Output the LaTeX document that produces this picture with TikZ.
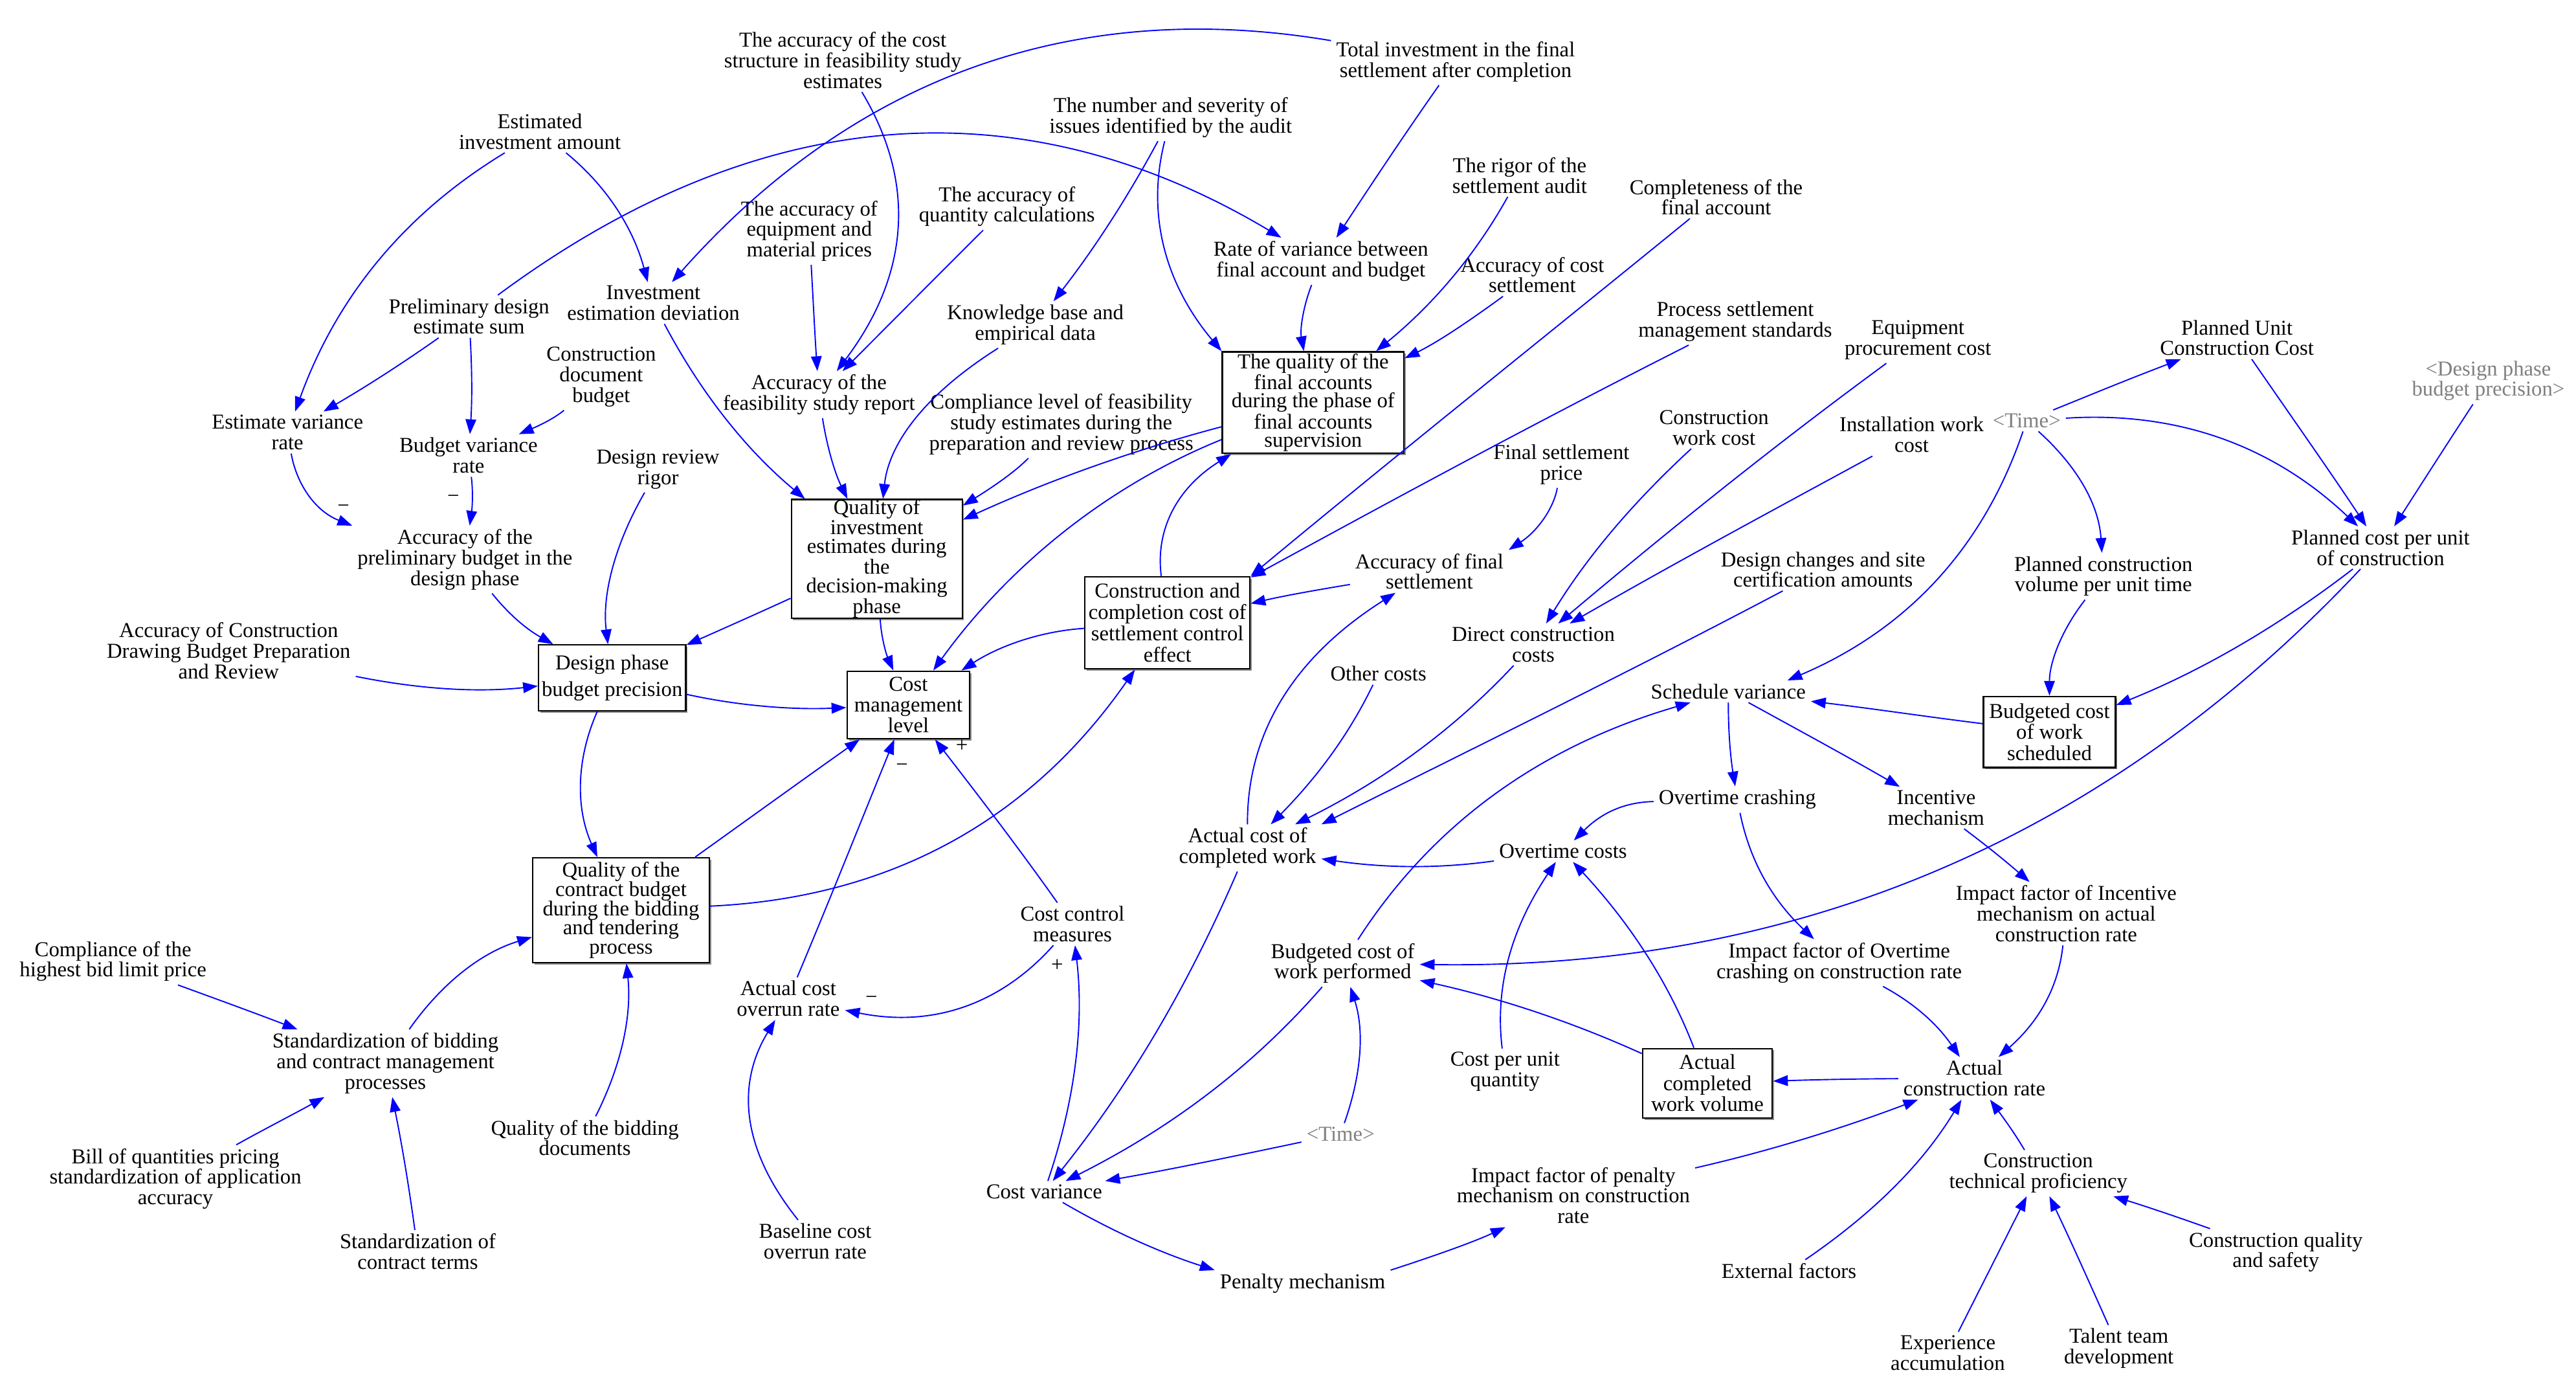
\documentclass[tikz,border=0pt]{standalone}
\usepackage{fontspec}
\setmainfont{Liberation Serif}
\usetikzlibrary{arrows.meta,calc,shadows}
\tikzset{
  tv/.style={font=\fontsize{12.9}{12.5}\selectfont, align=center, inner xsep=3pt, inner ysep=2pt},
  shv/.style={tv, text=black!50},
  lvl/.style={draw=black, line width=0.9pt, fill=white, align=center, inner sep=0pt,
     drop shadow={shadow xshift=1.1pt, shadow yshift=-1.1pt, fill=black!45, opacity=1}},
  arr/.style={draw=blue, line width=0.75pt, -{Triangle[length=9pt,width=6.5pt]}},
  pol/.style={font=\fontsize{12.9}{12.5}\selectfont, inner sep=0pt},
}
% curved connector: from, to, S, M, T
\newcommand{\edgeC}[5]{\draw[arr] (#1) .. controls ($1.3333*(#4)-0.3333*(#5)$) and ($1.3333*(#4)-0.3333*(#3)$) .. (#2);}
% straight connector: from, to, S, T
\newcommand{\edgeS}[4]{\draw[arr] (#1) .. controls ($(#3)!0.3333!(#4)$) and ($(#3)!0.6667!(#4)$) .. (#2);}
\begin{document}
\begin{tikzpicture}[x=1pt,y=-1pt]
\path[use as bounding box, fill=white] (0,0) rectangle (1568,844.3);

% ---------- nodes ----------
\node[tv] (costStruct) at (513,36.7) {The accuracy of the cost\\structure in feasibility study\\estimates};
\node[tv] (totalInv) at (886,37.5) {Total investment in the final\\settlement after completion};
\node[tv] (estInv) at (328.6,80) {Estimated\\investment amount};
\node[tv] (numSev) at (712.6,71.5) {The number and severity of\\issues identified by the audit};
\node[tv] (rigor) at (925,106.7) {The rigor of the\\settlement audit};
\node[tv] (complete) at (1044.6,120) {Completeness of the\\final account};
\node[tv] (eqPrice) at (492.6,140.6) {The accuracy of\\equipment and\\material prices};
\node[tv] (qtyCalc) at (612.9,125.7) {The accuracy of\\quantity calculations};
\node[tv] (rateVar) at (804,159) {Rate of variance between\\final account and budget};
\node[tv] (accCostSet) at (932.7,167.3) {Accuracy of cost\\settlement};
\node[tv] (invDev) at (397.7,184.4) {Investment\\estimation deviation};
\node[tv] (prelim) at (285.5,192.6) {Preliminary design\\estimate sum};
\node[tv] (knowledge) at (630.2,197.6) {Knowledge base and\\empirical data};
\node[tv] (processStd) at (1056.2,195.7) {Process settlement\\management standards};
\node[tv] (equipCost) at (1167.4,207) {Equipment\\procurement cost};
\node[tv] (plannedUnit) at (1361.6,205.6) {Planned Unit\\Construction Cost};
\node[shv] (designShadow) at (1514.6,231.7) {<Design phase\\budget precision>};
\node[tv] (constrDoc) at (366,229.3) {Construction\\document\\budget};
\node[tv] (accFeas) at (498.5,240.2) {Accuracy of the\\feasibility study report};
\node[lvl, minimum width=110.6pt, minimum height=61.8pt, font=\fontsize{12.9}{11.1}\selectfont] (qualFinal) at (799.3,245) {The quality of the\\final accounts\\during the phase of\\final accounts\\supervision};
\node[tv] (estVar) at (175,263.2) {Estimate variance\\rate};
\node[tv] (budVar) at (285.2,277.2) {Budget variance\\rate};
\node[tv] (designRev) at (400.5,285.6) {Design review\\rigor};
\node[tv] (compliance) at (646,258.2) {Compliance level of feasibility\\study estimates during the\\preparation and review process};
\node[lvl, minimum width=104pt, minimum height=71.5pt, font=\fontsize{12.9}{11.3}\selectfont] (qualInv) at (533.7,340.1) {Quality of\\investment\\estimates during\\the\\decision-making\\phase};
\node[shv] (timeTop) at (1233.6,256) {<Time>};
\node[tv] (install) at (1163.6,264.6) {Installation work\\cost};
\node[tv] (constrWork) at (1043.3,260.3) {Construction\\work cost};
\node[tv] (finalPrice) at (950.4,282.6) {Final settlement\\price};
\node[tv] (accPrelim) at (283,340.5) {Accuracy of the\\preliminary budget in the\\design phase};
\node[tv] (accFinal) at (870,347.7) {Accuracy of final\\settlement};
\node[tv] (designChg) at (1109.7,346.6) {Design changes and site\\certification amounts};
\node[tv] (plannedVol) at (1280.3,350.7) {Planned construction\\volume per unit time};
\node[tv] (plannedCost) at (1449,333.3) {Planned cost per unit\\of construction};
\node[lvl, minimum width=100.5pt, minimum height=56.1pt, font=\fontsize{12.9}{13}\selectfont] (ccBox) at (710.6,379) {Construction and\\completion cost of\\settlement control\\effect};
\node[tv] (accDraw) at (139.2,396) {Accuracy of Construction\\Drawing Budget Preparation\\and Review};
\node[lvl, minimum width=89.5pt, minimum height=40pt, font=\fontsize{12.9}{16.4}\selectfont] (dpBox) at (372.6,412.5) {Design phase\\budget precision};
\node[tv] (directCost) at (933.3,392.2) {Direct construction\\costs};
\node[tv] (otherCosts) at (839,410) {Other costs};
\node[lvl, minimum width=74.6pt, minimum height=41.1pt, font=\fontsize{12.9}{12.6}\selectfont] (cmlBox) at (552.9,429) {Cost\\management\\level};
\node[tv] (schedVar) at (1052,420.8) {Schedule variance};
\node[lvl, minimum width=80.4pt, minimum height=43.2pt, font=\fontsize{12.9}{12.8}\selectfont] (bcwsBox) at (1247.5,445.4) {Budgeted cost\\of work\\scheduled};
\node[tv] (otCrash) at (1057.5,486.6) {Overtime crashing};
\node[tv] (incentive) at (1178.5,491.6) {Incentive\\mechanism};
\node[tv] (acwp) at (759.4,516) {Actual cost of\\completed work};
\node[tv] (otCosts) at (951.4,518) {Overtime costs};
\node[lvl, minimum width=107.5pt, minimum height=63.8pt, font=\fontsize{12.9}{11.8}\selectfont] (qcbBox) at (378,553.9) {Quality of the\\contract budget\\during the bidding\\and tendering\\process};
\node[tv] (impInc) at (1257.7,556) {Impact factor of Incentive\\mechanism on actual\\construction rate};
\node[tv] (costCtrl) at (652.8,562.3) {Cost control\\measures};
\node[tv] (complBid) at (68.8,585) {Compliance of the\\highest bid limit price};
\node[tv] (bcwp) at (817.3,586.2) {Budgeted cost of\\work performed};
\node[tv] (impOT) at (1119.5,585.9) {Impact factor of Overtime\\crashing on construction rate};
\node[tv] (acor) at (479.8,607.7) {Actual cost\\overrun rate};
\node[tv] (stdBid) at (234.6,647) {Standardization of bidding\\and contract management\\processes};
\node[lvl, minimum width=79pt, minimum height=42.2pt, font=\fontsize{12.9}{12.8}\selectfont] (acwvBox) at (1039.3,659.2) {Actual\\completed\\work volume};
\node[tv] (costUnit) at (916.1,652.2) {Cost per unit\\quantity};
\node[tv] (acr) at (1201.8,656.2) {Actual\\construction rate};
\node[shv] (timeBot) at (816,690) {<Time>};
\node[tv] (qualBid) at (356,692.4) {Quality of the bidding\\documents};
\node[tv] (billQ) at (106.8,717.3) {Bill of quantities pricing\\standardization of application\\accuracy};
\node[tv] (techProf) at (1240.7,713.9) {Construction\\technical proficiency};
\node[tv] (impPen) at (957.7,727.5) {Impact factor of penalty\\mechanism on construction\\rate};
\node[tv] (costVar) at (635.6,725.2) {Cost variance};
\node[tv] (baseCost) at (496.2,755.4) {Baseline cost\\overrun rate};
\node[tv] (stdTerms) at (254.3,761.6) {Standardization of\\contract terms};
\node[tv] (cqs) at (1385.3,762) {Construction quality\\and safety};
\node[tv] (external) at (1088.9,773.4) {External factors};
\node[tv] (penalty) at (792.9,781) {Penalty mechanism};
\node[tv] (experience) at (1185.6,823.2) {Experience\\accumulation};
\node[tv] (talent) at (1289.7,820.6) {Talent team\\development};

% polarity signs
\node[pol] (pm1) at (209,309.6) {−};
\node[pol] (pm2) at (275.9,303.8) {−};
\node[pol] (pp1) at (585.5,453.9) {+};
\node[pol] (pm3) at (549,467) {−};
\node[pol] (pm4) at (530.4,608.5) {−};
\node[pol] (pp2) at (643.5,587.5) {+};

% ---------- connectors ----------
\edgeC{estInv}{estVar}{298.5,92.3}{227.5,160.9}{180.4,247.8}
\edgeC{estInv}{invDev}{346.8,92.3}{376,128}{393.3,170}
\edgeC{prelim}{rateVar}{301.5,176.4}{542,82}{782,142.8}
\edgeC{totalInv}{invDev}{813,19.5}{592.7,40.4}{411,167}
\edgeS{totalInv}{rateVar}{873,54.3}{814.4,142.9}
\edgeS{rateVar}{qualFinal}{795.6,171.9}{789,214.4}
\edgeC{numSev}{knowledge}{703,86.8}{677,133}{644,181}
\edgeC{numSev}{qualFinal.north west}{706,86.8}{709,152}{744,214}
\edgeC{rigor}{qualFinal}{917,121}{885,168}{842,213.5}
\edgeS{accCostSet}{qualFinal}{911,184.5}{856,220.7}
\edgeS{complete}{ccBox.north east}{1030,133.5}{762,347}
\edgeS{processStd}{ccBox}{1020.5,210.7}{765,349}
\edgeS{accFinal}{ccBox}{822,355.4}{762,366}
\edgeC{finalPrice}{accFinal.north east}{948,294.8}{939,316}{918.7,336.4}
\edgeC{acwp}{accFinal}{761.4,500}{781,425}{847,361.7}
\edgeC{constrWork}{directCost}{1021.8,275}{978,326}{942.6,375.3}
\edgeS{equipCost}{directCost}{1143.6,219.8}{951,375}
\edgeS{install}{directCost}{1138.6,278.5}{961,374}
\edgeS{designChg}{acwp.north east}{1088,361.7}{809,498.3}
\edgeC{directCost}{acwp}{920,406}{861,458}{791.8,497.4}
\edgeC{otherCosts}{acwp}{834.5,419.6}{811.5,458}{780,497}
\edgeC{otCosts}{acwp}{908,525.5}{858.5,527.5}{809,523.6}
\edgeC{acwp}{costVar}{750.8,529}{706,624}{647.8,712}
\edgeC{costVar}{costCtrl}{640,715.7}{655,646}{656.5,575.8}
\edgeC{costCtrl}{acor}{643.5,575.8}{586.4,613.1}{518.4,618.5}
\edgeS{costCtrl}{cmlBox}{644,547}{570,451}
\edgeS{acor}{cmlBox}{487,593}{543.5,451}
\edgeC{baseCost}{acor}{480.7,739}{456,680}{469,620.4}
\edgeS{qcbBox}{cmlBox}{422.8,522}{522,450.4}
\edgeC{qcbBox}{ccBox}{433,550.8}{578.6,511.9}{688,408.4}
\edgeC{dpBox}{cmlBox}{418,424}{466,430}{515.6,431.4}
\edgeS{qualInv}{cmlBox}{533.5,376.7}{542,407.8}
\edgeS{qualInv}{dpBox}{481,364.5}{418,392.4}
\edgeC{ccBox}{cmlBox}{659.8,380.4}{621,390}{585,407.5}
\edgeC{ccBox}{qualFinal}{707,350.3}{713,311}{742,272}
\edgeC{qualFinal}{cmlBox}{744,260}{646,324}{565,407.8}
\edgeS{qualFinal}{qualInv}{744,255}{588,310}
\edgeS{compliance}{qualInv}{631.5,278}{590,306}
\edgeC{knowledge}{qualInv}{597.6,213.5}{555,257}{537.7,303.8}
\edgeS{accFeas}{qualInv}{498.3,251.5}{512,303.8}
\edgeC{invDev}{qualInv}{405.3,198}{441,254}{487,303.8}
\edgeS{eqPrice}{accFeas}{494,162.8}{497,224.3}
\edgeC{costStruct}{accFeas}{527,55}{547,139}{514.6,222.5}
\edgeS{qtyCalc}{accFeas}{598.8,139.3}{514.6,224.3}
\edgeS{prelim}{estVar}{270,204.4}{204.8,247.5}
\edgeS{prelim}{budVar}{287,204.4}{287.7,261.4}
\edgeS{constrDoc}{budVar}{348,247}{326.7,261.4}
\edgeC{estVar}{accPrelim.north west}{178.4,275.8}{188,302}{211,327}
\edgeS{budVar}{accPrelim}{288.5,289.4}{287,317.8}
\edgeS{accPrelim}{dpBox}{297.8,362.3}{329.2,391.6}
\edgeC{designRev}{dpBox}{390.7,299.3}{372.5,347}{368.9,391.6}
\edgeC{accDraw}{dpBox}{222.4,414}{275,419.5}{328,418.4}
\edgeC{dpBox}{qcbBox}{363,432.8}{353.5,477}{361.9,522}
\edgeS{complBid}{stdBid}{115.6,602}{178.4,625}
\edgeC{stdBid}{qcbBox}{251.3,625}{282.8,590.9}{324,569.5}
\edgeS{billQ}{stdBid}{145.7,694.8}{195.5,669.5}
\edgeS{stdTerms}{stdBid}{253,745.7}{240,669.5}
\edgeC{qualBid}{qcbBox}{364.3,676.5}{379.5,632.5}{382.5,586.7}
\edgeS{timeTop}{plannedUnit}{1259,246}{1308.5,225.2}
\edgeC{timeTop}{plannedCost}{1259,252.4}{1352.6,266.7}{1433,316.5}
\edgeS{plannedUnit}{plannedCost}{1377.7,229.4}{1439.4,317}
\edgeS{designShadow}{plannedCost}{1502,250.5}{1459.5,317}
\edgeC{timeTop}{plannedVol}{1245,265}{1269.5,298}{1278.4,334.5}
\edgeC{timeTop}{[xshift=36pt]schedVar.north}{1231.5,265}{1176.8,354.3}{1088,409.7}
\edgeC{plannedVol}{bcwsBox}{1269.6,364.5}{1253,394}{1249.5,423.2}
\edgeC{plannedCost}{bcwsBox}{1429,347}{1362,393}{1288.4,427.8}
\edgeC{plannedCost}{bcwp}{1436.7,347}{1180.2,529.4}{871,588.5}
\edgeC{otCrash}{impOT}{1062,497.4}{1074.5,535}{1103,569}
\edgeS{acwvBox}{bcwp}{1003,638}{872,593}
\edgeC{acwvBox}{otCosts}{1031.7,638.1}{1003,582}{962.6,529}
\edgeC{costUnit}{otCosts}{913,635.8}{918,583}{942.6,529}
\edgeC{otCrash}{otCosts}{1004.6,486.6}{982,493}{964,507.4}
\edgeS{schedVar}{otCrash}{1050.6,430.5}{1054.8,476.6}
\edgeS{schedVar}{incentive}{1069.4,430.5}{1152.4,475.6}
\edgeS{bcwsBox}{schedVar}{1207,441.3}{1105,426}
\edgeC{bcwp}{schedVar}{823,574}{907.7,484.5}{1018,429.5}
\edgeC{bcwp}{costVar}{807,600}{738.6,663.7}{660.4,714.8}
\edgeC{timeBot}{bcwp}{820.7,679.4}{828,640}{825.2,600.4}
\edgeS{timeBot}{costVar}{793,694.8}{676.7,719.3}
\edgeC{costVar}{penalty.north west}{651.6,735.3}{694,756}{739.6,773}
\edgeS{penalty.north east}{impPen}{848.3,773}{920.7,747.5}
\edgeS{impPen}{acr}{1035.5,714.3}{1171,670.3}
\edgeS{acr}{acwvBox}{1153.7,656}{1079.5,657.6}
\edgeS{impOT}{acr}{1156,598.5}{1194,640.3}
\edgeC{impInc}{acr}{1254.5,577.6}{1244.5,610.5}{1219,640.3}
\edgeS{incentive}{impInc}{1197.3,505}{1231.5,532.7}
\edgeC{external}{acr}{1106,763}{1156,719}{1189,671}
\edgeS{techProf}{acr}{1232.5,697.8}{1211.8,670}
\edgeS{experience}{techProf}{1194,806.5}{1234,727.5}
\edgeS{talent}{techProf}{1282.7,804.7}{1248,727.5}
\edgeS{cqs}{techProf}{1341,745.7}{1286,727.5}
\end{tikzpicture}
\end{document}
